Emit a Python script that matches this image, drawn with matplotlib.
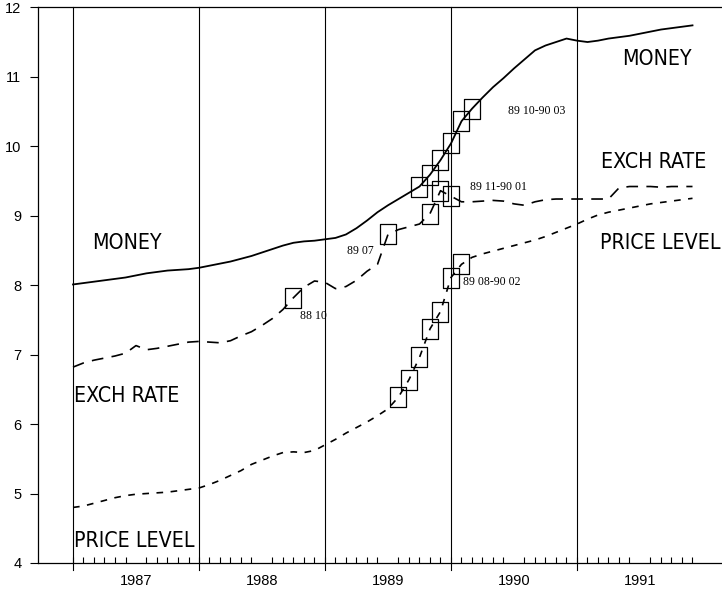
import numpy as np
import matplotlib.pyplot as plt
from matplotlib.path import Path
from matplotlib import font_manager

# monthly data, Jan 1987 .. Dec 1991 (log levels)
money = [8.01, 8.03, 8.05, 8.07, 8.09, 8.11, 8.14, 8.17, 8.19, 8.21, 8.22, 8.23,
         8.25, 8.28, 8.31, 8.34, 8.38, 8.42, 8.47, 8.52, 8.57, 8.61, 8.63, 8.64,
         8.66, 8.68, 8.73, 8.82, 8.93, 9.05, 9.15, 9.24, 9.33, 9.42, 9.59, 9.80,
         10.04, 10.36, 10.54, 10.70, 10.85, 10.98, 11.12, 11.25, 11.38, 11.45, 11.50, 11.55,
         11.52, 11.50, 11.52, 11.55, 11.57, 11.59, 11.62, 11.65, 11.68, 11.70, 11.72, 11.74]

exch_rate = [6.82, 6.88, 6.92, 6.95, 6.98, 7.02, 7.13, 7.07, 7.09, 7.12, 7.15, 7.18,
             7.19, 7.18, 7.17, 7.20, 7.27, 7.33, 7.42, 7.52, 7.65, 7.82, 7.97, 8.06,
             8.04, 7.95, 7.98, 8.07, 8.20, 8.30, 8.73, 8.80, 8.84, 8.88, 9.03, 9.36,
             9.28, 9.20, 9.20, 9.21, 9.22, 9.21, 9.17, 9.15, 9.20, 9.23, 9.24, 9.24,
             9.24, 9.24, 9.24, 9.24, 9.40, 9.42, 9.42, 9.42, 9.41, 9.42, 9.42, 9.42]

price_level = [4.80, 4.82, 4.86, 4.90, 4.94, 4.97, 4.99, 5.00, 5.01, 5.02, 5.04, 5.06,
               5.08, 5.13, 5.19, 5.26, 5.33, 5.42, 5.48, 5.54, 5.59, 5.60, 5.59, 5.62,
               5.70, 5.78, 5.87, 5.95, 6.03, 6.12, 6.22, 6.39, 6.64, 6.96, 7.37, 7.62,
               8.11, 8.30, 8.40, 8.45, 8.49, 8.53, 8.57, 8.61, 8.65, 8.70, 8.76, 8.82,
               8.88, 8.95, 9.01, 9.05, 9.08, 9.11, 9.14, 9.17, 9.19, 9.21, 9.23, 9.25]

years = [1987, 1988, 1989, 1990, 1991]

# boxed months (index ranges into the monthly series)
money_box = (33, 39)   # 89 10 - 90 03
exch_box1 = (21, 22)   # 88 10
exch_box2 = (30, 31)   # 89 07
exch_box3 = (34, 37)   # 89 11 - 90 01
price_box = (31, 38)   # 89 08 - 90 02

t = 1987 + np.arange(len(money)) / 12.0
money = np.array(money)
exch_rate = np.array(exch_rate)
price_level = np.array(price_level)

# narrow plotter-ish font for the series names, if a condensed face exists
big = dict(family='DejaVu Sans', stretch='condensed', fontsize=15.3)
fp = font_manager.FontProperties(family='DejaVu Sans', stretch='condensed')
if 'Condensed' not in font_manager.findfont(fp):
    big = dict(family='DejaVu Sans', fontsize=13.5)
small = ['Liberation Serif', 'DejaVu Serif']

fig = plt.figure(figsize=(7.22, 5.93), dpi=100)
ax = fig.add_axes([38/722, 30/593, 1 - 38/722, (563 - 7.3)/593])

ax.plot(t, money, color='black', lw=1.3)
ax.plot(t, exch_rate, color='black', lw=1.2, dashes=(7, 5))
ax.plot(t, price_level, color='black', lw=1.2, dashes=(4, 4.5))

# tall-ish open box marker
box = Path([(-0.4, -0.5), (0.4, -0.5), (0.4, 0.5), (-0.4, 0.5), (-0.4, -0.5)],
           [Path.MOVETO, Path.LINETO, Path.LINETO, Path.LINETO, Path.CLOSEPOLY])
mk = dict(linestyle='none', marker=box, markersize=15, markerfacecolor='none',
          markeredgecolor='black', markeredgewidth=0.9)
for series, (a, b) in [(money, money_box), (exch_rate, exch_box1), (exch_rate, exch_box2),
                       (exch_rate, exch_box3), (price_level, price_box)]:
    ax.plot(t[a:b], series[a:b], **mk)

for yr in years:
    ax.axvline(yr, ymin=-0.012, ymax=1, color='black', lw=0.8, clip_on=False)

ax.set_xlim(1987 - 35/126, 1987 + 649/126)
ax.set_ylim(4, 12)

ax.set_yticks(range(4, 13))
ax.tick_params(axis='y', direction='out', length=6, width=0.8, labelsize=10.5, pad=6)
ax.set_xticks([y + 0.5 for y in years], [str(y) for y in years])
ax.tick_params(axis='x', which='major', length=0, labelsize=10.5, pad=8)
ax.set_xticks(1987 + np.arange(60) / 12.0, minor=True)
ax.tick_params(axis='x', which='minor', direction='in', length=4, width=0.8)
for lab in ax.get_xticklabels() + ax.get_yticklabels():
    lab.set_family(['Liberation Sans', 'DejaVu Sans'])

ax.spines['right'].set_visible(False)
for s in ['left', 'top', 'bottom']:
    ax.spines[s].set_linewidth(0.9)

ax.text(1987.151, 8.60, 'MONEY', va='center', **big)
ax.text(1991.357, 11.25, 'MONEY', va='center', **big)
ax.text(1991.19, 9.77, 'EXCH RATE', va='center', **big)
ax.text(1991.18, 8.60, 'PRICE LEVEL', va='center', **big)
ax.text(1987.01, 6.40, 'EXCH RATE', va='center', **big)
ax.text(1987.01, 4.31, 'PRICE LEVEL', va='center', **big)

fs_small = 8.5
ax.text(1990.452, 10.50, '89 10-90 03', family=small, fontsize=fs_small, va='center')
ax.text(1990.151, 9.42, '89 11-90 01', family=small, fontsize=fs_small, va='center')
ax.text(1989.175, 8.49, '89 07', family=small, fontsize=fs_small, va='center')
ax.text(1988.80, 7.55, '88 10', family=small, fontsize=fs_small, va='center')
ax.text(1990.095, 8.04, '89 08-90 02', family=small, fontsize=fs_small, va='center')

fig.savefig('out.png', dpi=100)
